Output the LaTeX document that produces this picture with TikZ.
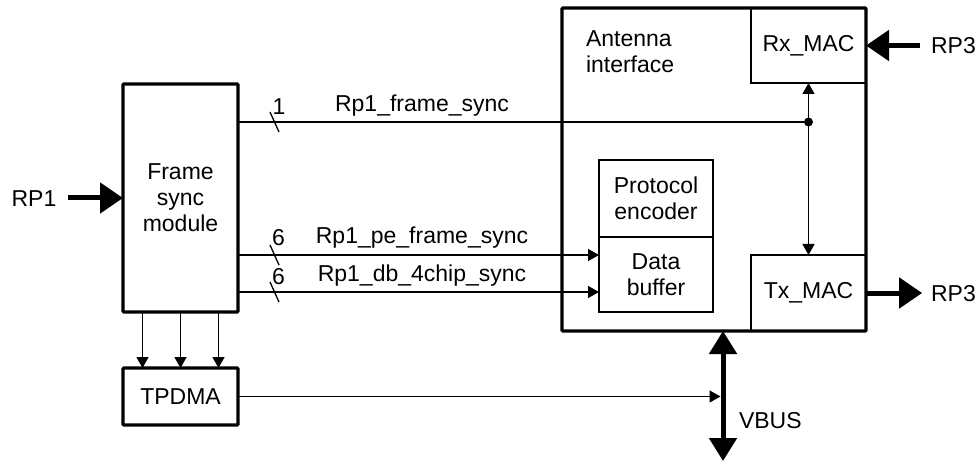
\documentclass[tikz,border=0pt]{standalone}
\usepackage{fontspec}
\setmainfont{Liberation Sans}
\usetikzlibrary{arrows.meta}
\begin{document}
\begin{tikzpicture}[x=1pt,y=-1pt,
  every node/.style={font=\fontsize{23}{26}\selectfont, inner sep=0pt, outer sep=0pt},
  heavy/.style={draw, line width=3.2pt, rounded corners=1pt, align=center},
  light/.style={draw, line width=1.7pt, align=center},
  wire/.style={line width=1.3pt},
  sarrow/.style={-{Triangle[length=11pt,width=12pt]}},
  dblsarrow/.style={{Triangle[length=11pt,width=12pt]}-{Triangle[length=11pt,width=12pt]}},
  bigarrow/.style={line width=5pt, -{Triangle[length=23pt,width=30pt]}},
  busarrow/.style={line width=5pt, {Triangle[length=23pt,width=27pt]}-{Triangle[length=23pt,width=27pt]}},
  lbl/.style={text height=16.5pt, text depth=0pt},
  junction/.style={circle, fill, minimum size=9pt}]
\useasboundingbox (0,0) rectangle (979,462);

% blocks
\node[heavy, minimum width=115pt, minimum height=228pt] (fsm) at (180.5,198) {Frame\\sync\\module};
\node[heavy, minimum width=115pt, minimum height=57pt] (tpdma) at (180.5,396.5) {TPDMA};
\node[heavy, minimum width=304pt, minimum height=323pt] (ant) at (714,169.5) {};
\node[anchor=north west, align=left] (antlbl) at (586,30.5) {Antenna\\interface};
\node[light, minimum width=115pt, minimum height=75pt] (rx) at (808.5,45.5) {Rx\_MAC};
\node[light, minimum width=115pt, minimum height=76pt] (tx) at (808.5,293) {Tx\_MAC};
\node[light, minimum width=114pt, minimum height=77pt] (prot) at (656,198.5) {Protocol\\encoder};
\node[light, minimum width=114pt, minimum height=75pt] (data) at (656,274.5) {Data\\buffer};

% external labels
\node[lbl] (rp1) at (34,198) {RP1};
\node[lbl] (rp3a) at (953.5,45.5) {RP3};
\node[lbl] (rp3b) at (953.5,293) {RP3};
\node[lbl, anchor=west] (vbus) at (739,420) {VBUS};

% thick I/O arrows
\draw[bigarrow] ([xshift=12pt]rp1.east) -- (fsm.west);
\draw[bigarrow] ([xshift=-11pt]rp3a.west) -- (rx.east);
\draw[bigarrow] (tx.east) -- ([xshift=-9pt]rp3b.west);

% VBUS
\coordinate (vb0) at ([xshift=9pt]ant.south);
\coordinate (vb1) at (723,461);
\draw[busarrow] (vb1) -- (vb0);

% Rx <-> Tx
\draw[wire, dblsarrow] (rx.south) -- (tx.north);
\node[junction] (dot) at (808.5,122) {};

% frame sync lines
\coordinate (fs0) at (fsm.east |- dot);
\path ([yshift=-57pt]fsm.east) coordinate (pe0) ([yshift=-94pt]fsm.east) coordinate (db0);
\draw[wire] (fs0) -- (dot);
\draw[wire, sarrow] (pe0) -- (pe0 -| data.west);
\draw[wire, sarrow] (db0) -- (db0 -| data.west);

% bus-width slashes
\draw[wire] ([shift={(32,-10)}]fs0) -- ++(9,20);
\draw[wire] ([shift={(32,-10)}]pe0) -- ++(9,20);
\draw[wire] ([shift={(32,-10)}]db0) -- ++(9,20);

% labels on lines
\node[lbl] (n1) at (279,106) {1};
\node[lbl] (n6a) at (278.5,237.5) {6};
\node[lbl] (n6b) at (278.5,276) {6};
\node[lbl] (lfs) at (422,103.5) {Rp1\_frame\_sync};
\node[lbl] (lpe) at (422,235) {Rp1\_pe\_frame\_sync};
\node[lbl] (ldb) at (422,273.5) {Rp1\_db\_4chip\_sync};

% frame sync module -> TPDMA
\draw[wire, sarrow] ([xshift=-38pt]fsm.south) -- ([xshift=-38pt]tpdma.north);
\draw[wire, sarrow] (fsm.south) -- (tpdma.north);
\draw[wire, sarrow] ([xshift=38pt]fsm.south) -- ([xshift=38pt]tpdma.north);

% TPDMA -> VBUS
\draw[wire, sarrow, shorten >=2.5pt] (tpdma.east) -- (tpdma.east -| vb0);
\end{tikzpicture}
\end{document}
